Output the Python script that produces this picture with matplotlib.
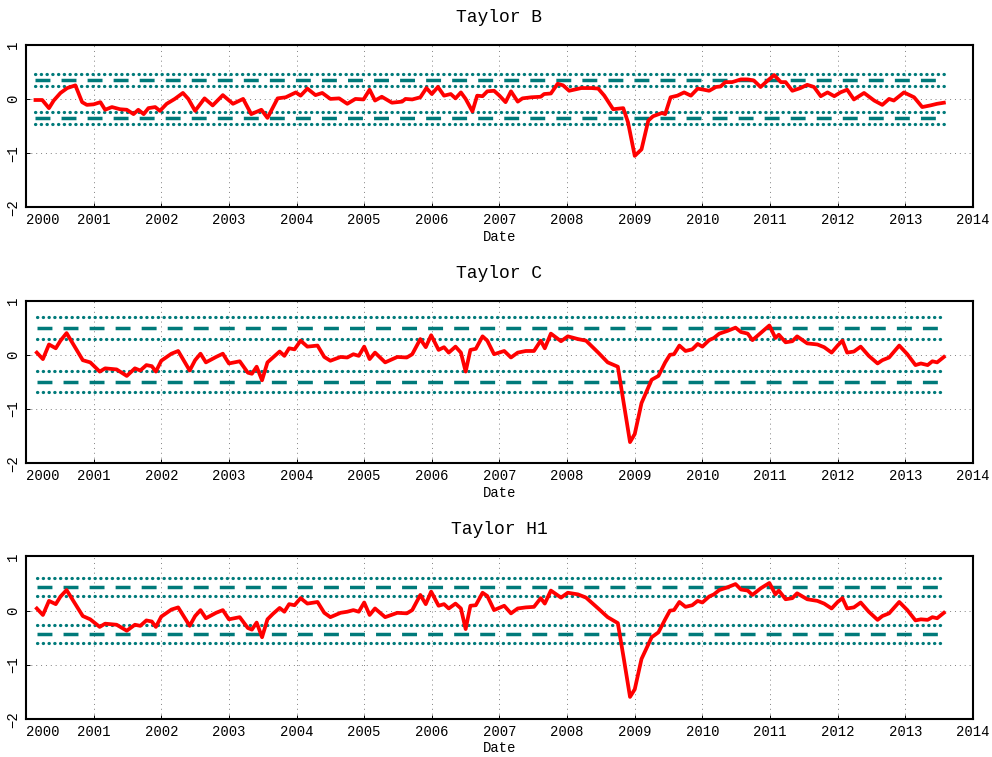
import matplotlib.pyplot as plt

# Taylor B residuals (decimal year, value)
b_dates = [2000.14, 2000.24, 2000.34, 2000.41, 2000.51, 2000.61, 2000.73, 2000.83, 2000.90,
           2001.00, 2001.10, 2001.17, 2001.27, 2001.39, 2001.49, 2001.59, 2001.66, 2001.74,
           2001.81, 2001.91, 2001.98, 2002.08, 2002.20, 2002.32, 2002.40, 2002.50, 2002.64,
           2002.76, 2002.91, 2003.06, 2003.21, 2003.33, 2003.48, 2003.57, 2003.72, 2003.84,
           2003.99, 2004.06, 2004.16, 2004.28, 2004.38, 2004.50, 2004.63, 2004.75, 2004.87,
           2004.99, 2005.08, 2005.16, 2005.26, 2005.41, 2005.56, 2005.61, 2005.71, 2005.83,
           2005.92, 2006.00, 2006.09, 2006.18, 2006.28, 2006.35, 2006.43, 2006.50, 2006.60,
           2006.67, 2006.75, 2006.82, 2006.92, 2007.00, 2007.09, 2007.17, 2007.27, 2007.34,
           2007.47, 2007.61, 2007.66, 2007.76, 2007.86, 2007.94, 2008.03, 2008.21, 2008.36,
           2008.46, 2008.55, 2008.68, 2008.83, 2008.90, 2009.00, 2009.10, 2009.20, 2009.27,
           2009.40, 2009.45, 2009.53, 2009.63, 2009.73, 2009.83, 2009.93, 2010.02, 2010.10,
           2010.20, 2010.27, 2010.34, 2010.44, 2010.57, 2010.67, 2010.76, 2010.86, 2010.94,
           2011.06, 2011.16, 2011.23, 2011.33, 2011.45, 2011.55, 2011.65, 2011.75, 2011.85,
           2011.95, 2012.04, 2012.14, 2012.24, 2012.39, 2012.54, 2012.66, 2012.76, 2012.83,
           2012.98, 2013.13, 2013.25, 2013.37, 2013.47, 2013.57]
b_vals = [-0.02, -0.02, -0.17, -0.03, 0.11, 0.20, 0.25, -0.06, -0.11,
          -0.10, -0.06, -0.20, -0.15, -0.19, -0.20, -0.28, -0.20, -0.28,
          -0.17, -0.15, -0.22, -0.09, 0.00, 0.11, 0.00, -0.22, 0.01,
          -0.12, 0.07, -0.09, 0.00, -0.28, -0.20, -0.35, 0.01, 0.03,
          0.12, 0.06, 0.19, 0.07, 0.11, 0.00, 0.01, -0.09, 0.00,
          -0.01, 0.17, -0.03, 0.04, -0.07, -0.05, 0.00, -0.01, 0.03,
          0.20, 0.09, 0.22, 0.06, 0.09, 0.01, 0.12, 0.00, -0.23,
          0.06, 0.05, 0.14, 0.15, 0.06, -0.06, 0.14, -0.05, 0.01,
          0.03, 0.04, 0.09, 0.10, 0.28, 0.25, 0.15, 0.20, 0.20,
          0.19, 0.06, -0.19, -0.17, -0.43, -1.05, -0.93, -0.40, -0.32,
          -0.26, -0.28, 0.03, 0.06, 0.12, 0.06, 0.19, 0.17, 0.15,
          0.22, 0.23, 0.31, 0.31, 0.36, 0.36, 0.34, 0.22, 0.31,
          0.44, 0.31, 0.31, 0.15, 0.20, 0.26, 0.22, 0.05, 0.12,
          0.05, 0.12, 0.17, -0.01, 0.11, -0.03, -0.11, 0.00, -0.03,
          0.12, 0.03, -0.15, -0.12, -0.09, -0.07]

# Taylor C residuals
c_dates = [2000.16, 2000.25, 2000.34, 2000.44, 2000.51, 2000.60, 2000.71, 2000.84, 2000.95,
           2001.09, 2001.17, 2001.34, 2001.49, 2001.61, 2001.69, 2001.78, 2001.86, 2001.92,
           2002.00, 2002.15, 2002.25, 2002.42, 2002.50, 2002.58, 2002.66, 2002.81, 2002.91,
           2003.00, 2003.16, 2003.28, 2003.34, 2003.41, 2003.49, 2003.57, 2003.65, 2003.75,
           2003.82, 2003.89, 2003.97, 2004.06, 2004.16, 2004.31, 2004.41, 2004.50, 2004.65,
           2004.75, 2004.84, 2004.92, 2005.00, 2005.08, 2005.16, 2005.31, 2005.49, 2005.63,
           2005.71, 2005.83, 2005.91, 2005.99, 2006.10, 2006.18, 2006.25, 2006.35, 2006.43,
           2006.50, 2006.57, 2006.65, 2006.75, 2006.82, 2006.92, 2007.07, 2007.17, 2007.27,
           2007.39, 2007.51, 2007.61, 2007.67, 2007.76, 2007.91, 2008.01, 2008.16, 2008.28,
           2008.46, 2008.60, 2008.75, 2008.84, 2008.93, 2009.00, 2009.10, 2009.25, 2009.35,
           2009.45, 2009.52, 2009.58, 2009.66, 2009.75, 2009.85, 2009.93, 2010.00, 2010.10,
           2010.17, 2010.25, 2010.37, 2010.49, 2010.57, 2010.67, 2010.74, 2010.86, 2010.99,
           2011.08, 2011.13, 2011.23, 2011.33, 2011.40, 2011.55, 2011.70, 2011.80, 2011.91,
           2012.00, 2012.07, 2012.14, 2012.24, 2012.34, 2012.46, 2012.59, 2012.66, 2012.76,
           2012.91, 2013.03, 2013.15, 2013.23, 2013.33, 2013.40, 2013.47, 2013.57]
c_vals = [0.04, -0.08, 0.19, 0.12, 0.26, 0.40, 0.17, -0.10, -0.14,
          -0.31, -0.25, -0.27, -0.39, -0.25, -0.29, -0.19, -0.21, -0.31,
          -0.11, 0.02, 0.07, -0.29, -0.10, 0.02, -0.14, -0.04, 0.02,
          -0.16, -0.12, -0.33, -0.35, -0.22, -0.47, -0.14, -0.05, 0.06,
          -0.02, 0.12, 0.10, 0.26, 0.15, 0.17, -0.04, -0.11, -0.04,
          -0.05, 0.01, -0.02, 0.15, -0.08, 0.04, -0.14, -0.04, -0.05,
          0.01, 0.29, 0.14, 0.36, 0.09, 0.14, 0.04, 0.15, 0.04,
          -0.31, 0.09, 0.11, 0.34, 0.26, 0.01, 0.07, -0.05, 0.04,
          0.07, 0.07, 0.26, 0.12, 0.39, 0.25, 0.34, 0.29, 0.26,
          0.04, -0.14, -0.22, -0.92, -1.61, -1.46, -0.89, -0.46, -0.39,
          -0.14, 0.00, 0.01, 0.17, 0.07, 0.10, 0.20, 0.15, 0.27,
          0.31, 0.39, 0.44, 0.50, 0.42, 0.39, 0.27, 0.40, 0.54,
          0.31, 0.37, 0.23, 0.25, 0.34, 0.21, 0.19, 0.14, 0.04,
          0.17, 0.26, 0.04, 0.06, 0.15, -0.02, -0.16, -0.10, -0.05,
          0.17, 0.01, -0.19, -0.16, -0.19, -0.12, -0.14, -0.04]

# Taylor H1 residuals
h1_dates = c_dates
h1_vals = [0.04, -0.08, 0.18, 0.12, 0.26, 0.38, 0.16, -0.10, -0.16,
           -0.30, -0.24, -0.26, -0.37, -0.26, -0.28, -0.18, -0.20, -0.30,
           -0.11, 0.02, 0.06, -0.28, -0.10, 0.01, -0.14, -0.04, 0.01,
           -0.16, -0.12, -0.32, -0.35, -0.22, -0.49, -0.16, -0.06, 0.05,
           -0.02, 0.12, 0.10, 0.23, 0.13, 0.16, -0.04, -0.12, -0.04,
           -0.02, 0.01, -0.02, 0.15, -0.08, 0.04, -0.12, -0.04, -0.05,
           0.01, 0.29, 0.12, 0.35, 0.09, 0.12, 0.04, 0.13, 0.04,
           -0.34, 0.09, 0.10, 0.33, 0.27, 0.01, 0.09, -0.05, 0.04,
           0.06, 0.07, 0.23, 0.13, 0.37, 0.24, 0.33, 0.30, 0.24,
           0.04, -0.12, -0.23, -0.90, -1.59, -1.45, -0.89, -0.49, -0.40,
           -0.16, 0.00, 0.01, 0.16, 0.07, 0.10, 0.18, 0.15, 0.26,
           0.30, 0.38, 0.43, 0.49, 0.39, 0.37, 0.29, 0.41, 0.51,
           0.30, 0.37, 0.21, 0.23, 0.32, 0.21, 0.18, 0.13, 0.04,
           0.16, 0.23, 0.04, 0.06, 0.15, -0.02, -0.17, -0.10, -0.05,
           0.16, 0.01, -0.18, -0.16, -0.17, -0.12, -0.14, -0.04]

# band levels: inner dotted, dashed, outer dotted (mirrored below zero)
b_bands = [0.24, 0.35, 0.46]
c_bands = [0.30, 0.495, 0.69]
h1_bands = [0.265, 0.435, 0.605]

titles = ["Taylor B", "Taylor C", "Taylor H1"]
years = list(range(2000, 2015))
yticks = [-2, -1, 0, 1]

teal = '#007a7a'
plt.rcParams['font.family'] = ['Liberation Mono', 'DejaVu Sans Mono']

fig = plt.figure(figsize=(9.92, 7.57), dpi=100)
bottoms = [0.726, 0.388, 0.050]
panels = zip(titles, [b_dates, c_dates, h1_dates], [b_vals, c_vals, h1_vals],
             [b_bands, c_bands, h1_bands], bottoms)

for title, dates, vals, bands, bottom in panels:
    ax = fig.add_axes([0.0262, bottom, 0.9546, 0.215])
    xr = [dates[0], dates[-1]]
    inner, mid, outer = bands
    for s in (1, -1):
        for lev in (inner, outer):
            ax.plot(xr, [s * lev, s * lev], color=teal, lw=2.3,
                    ls=(0, (0.1, 1.7)), dash_capstyle='round')
        ax.plot(xr, [s * mid, s * mid], color=teal, lw=2.5, ls=(0, (4.3, 3.2)))
    ax.plot(dates, vals, color='red', lw=2.7)

    ax.set_xlim(2000, 2014)
    ax.set_ylim(-2, 1)
    ax.set_xticks(years, [str(y) for y in years])
    ax.set_yticks(yticks)
    ax.get_xticklabels()[0].set_horizontalalignment('left')
    ax.grid(True, color='gray', lw=0.7, ls=(0, (1, 4)))
    ax.tick_params(direction='in', length=3, width=0.7, labelsize=10, pad=4)
    for lab in ax.get_yticklabels():
        lab.set_rotation(90)
        lab.set_verticalalignment('center')
    for sp in ax.spines.values():
        sp.set_linewidth(1.5)
    ax.set_title(title, fontsize=13, pad=16)
    ax.set_xlabel('Date', fontsize=10, labelpad=2)

fig.savefig('out.png', dpi=100)
